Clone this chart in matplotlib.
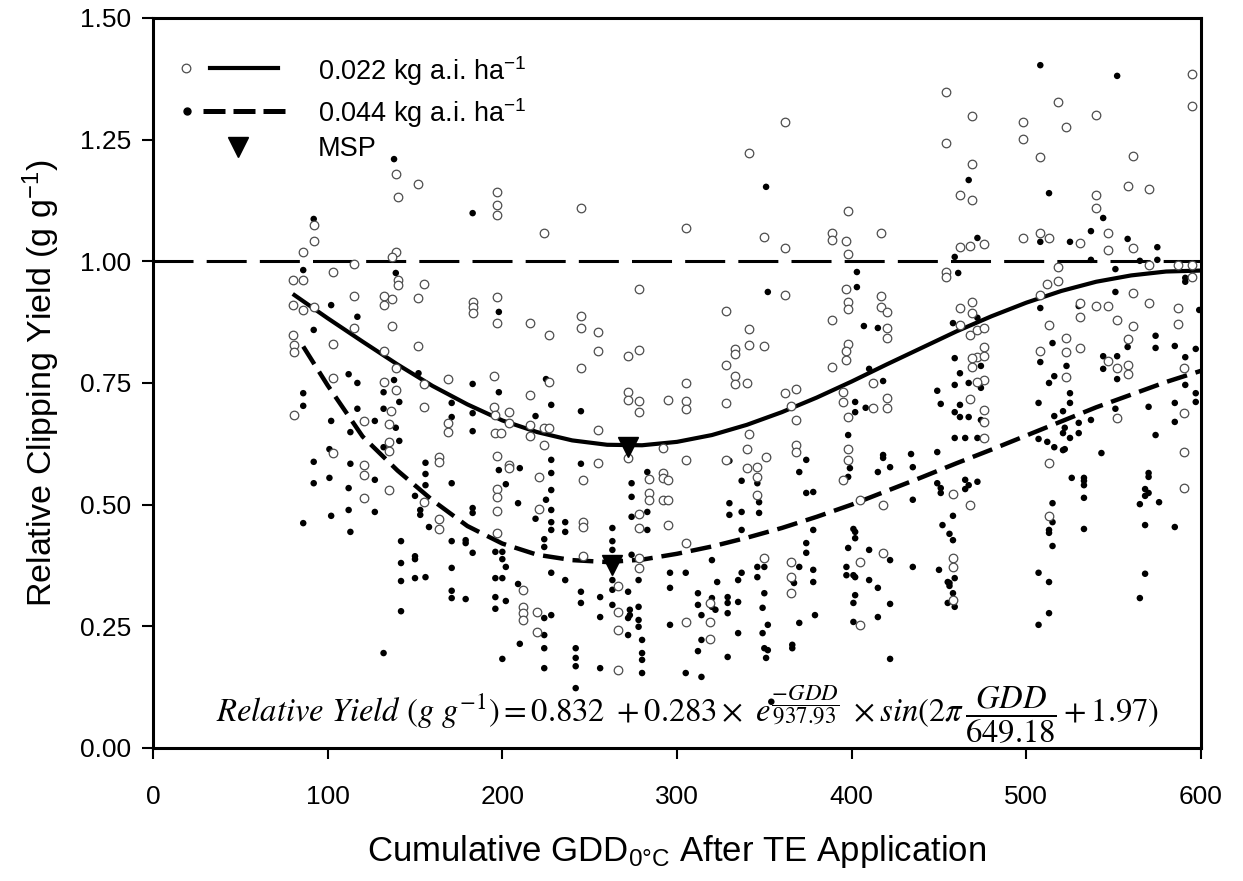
import matplotlib
matplotlib.use("Agg")
import matplotlib.pyplot as plt

plt.rcParams['font.family'] = ['Liberation Sans', 'DejaVu Sans']
plt.rcParams['mathtext.fontset'] = 'custom'
plt.rcParams['mathtext.rm'] = 'Liberation Sans'
plt.rcParams['mathtext.it'] = 'Liberation Sans:italic'

# fitted curves
fit_x_022 = [80, 100, 120, 140, 160, 180, 200, 220, 240, 260, 280, 300, 320, 340,
             360, 380, 400, 420, 440, 460, 480, 500, 520, 540, 560, 580, 600]
fit_y_022 = [0.933, 0.883, 0.835, 0.788, 0.744, 0.706, 0.673, 0.649, 0.632, 0.623,
             0.622, 0.629, 0.643, 0.664, 0.690, 0.720, 0.753, 0.788, 0.822, 0.856,
             0.887, 0.915, 0.939, 0.958, 0.971, 0.979, 0.981]
fit_x_044 = [86, 100, 120, 140, 160, 180, 200, 220, 240, 260, 280, 300, 320, 340,
             360, 380, 400, 420, 440, 460, 480, 500, 520, 540, 560, 580, 600]
fit_y_044 = [0.825, 0.745, 0.640, 0.570, 0.509, 0.456, 0.420, 0.397, 0.386, 0.382,
             0.387, 0.399, 0.414, 0.432, 0.452, 0.475, 0.500, 0.528, 0.556, 0.585,
             0.613, 0.642, 0.671, 0.700, 0.726, 0.752, 0.775]

# minimum suppression points
msp_x = [272, 263]
msp_y = [0.618, 0.375]

# 0.022 kg a.i. ha-1 observations (open circles)
obs_022 = [
    (92, 1.075), (92, 1.042), (86, 1.019), (80, 0.962), (86, 0.962), (80, 0.910), (86, 0.900),
    (92, 0.906), (80, 0.849), (81, 0.828), (81, 0.814), (81, 0.684), (103, 0.978), (103, 0.830),
    (103, 0.760), (103, 0.606), (115, 0.994), (115, 0.929), (115, 0.863), (121, 0.672), (121, 0.581),
    (121, 0.561), (132, 0.929), (132, 0.910), (132, 0.816), (132, 0.752), (136, 0.692), (137, 0.867),
    (137, 0.923), (139, 1.019), (137, 1.009), (140, 0.962), (140, 0.951), (140, 1.132), (139, 0.736),
    (135, 0.666), (135, 0.629), (135, 0.610), (139, 0.781), (152, 1.159), (155, 0.953), (152, 0.925),
    (152, 0.826), (155, 0.748), (155, 0.701), (164, 0.598), (164, 0.588), (169, 0.758), (169, 0.668),
    (169, 0.649), (183, 0.916), (183, 0.906), (183, 0.894), (197, 1.142), (197, 1.116), (197, 1.095),
    (197, 0.927), (197, 0.873), (195, 0.764), (195, 0.701), (196, 0.684), (196, 0.647), (199, 0.647),
    (197, 0.600), (204, 0.690), (204, 0.668), (204, 0.581), (204, 0.575), (216, 0.873), (216, 0.725),
    (216, 0.664), (216, 0.641), (224, 1.058), (224, 0.658), (224, 0.623), (221, 0.557), (139, 1.179),
    (121, 0.514), (135, 0.530), (164, 0.471), (164, 0.450), (155, 0.505), (197, 0.532), (197, 0.516),
    (197, 0.487), (197, 0.442), (221, 0.491), (212, 0.325), (212, 0.290), (212, 0.277), (212, 0.263),
    (220, 0.279), (220, 0.238),
    (245, 1.110), (305, 1.068), (341, 1.223), (362, 1.286), (350, 1.050), (362, 1.027), (454, 1.348),
    (454, 1.243), (398, 1.103), (389, 1.058), (389, 1.044), (397, 1.042), (398, 1.015), (417, 1.058),
    (454, 0.978), (454, 0.968), (278, 0.943), (245, 0.888), (245, 0.863), (255, 0.855), (255, 0.816),
    (245, 0.781), (227, 0.849), (227, 0.752), (272, 0.805), (278, 0.818), (272, 0.731), (272, 0.715),
    (278, 0.713), (278, 0.690), (295, 0.715), (305, 0.750), (305, 0.713), (305, 0.697), (328, 0.898),
    (341, 0.861), (333, 0.820), (333, 0.810), (341, 0.828), (350, 0.826), (328, 0.787), (333, 0.764),
    (333, 0.748), (340, 0.750), (328, 0.709), (362, 0.931), (389, 0.879), (397, 0.943), (398, 0.916),
    (398, 0.902), (398, 0.830), (397, 0.816), (397, 0.797), (389, 0.783), (417, 0.929), (417, 0.906),
    (420, 0.896), (420, 0.863), (420, 0.842), (412, 0.750), (395, 0.731), (395, 0.711), (420, 0.719),
    (420, 0.699), (412, 0.699), (362, 0.729), (368, 0.738), (365, 0.703), (368, 0.674), (341, 0.645),
    (398, 0.680), (398, 0.614), (398, 0.592), (368, 0.623), (368, 0.608), (340, 0.614), (340, 0.575),
    (328, 0.592), (305, 0.592), (255, 0.653), (255, 0.586), (227, 0.658), (292, 0.565), (272, 0.596),
    (292, 0.616),
    (469, 1.299), (469, 1.200), (462, 1.136), (469, 1.126), (498, 1.286), (498, 1.251), (518, 1.327),
    (523, 1.276), (508, 1.214), (540, 1.301), (561, 1.216), (558, 1.155), (570, 1.149), (595, 1.319),
    (540, 1.136), (540, 1.110), (462, 1.029), (468, 1.031), (476, 1.036), (498, 1.048), (508, 1.058),
    (513, 1.048), (531, 1.038), (547, 1.058), (547, 1.023), (561, 1.027), (518, 0.988), (570, 0.992),
    (587, 0.992), (595, 0.992), (595, 0.968), (512, 0.953), (518, 0.960), (462, 0.904), (469, 0.916),
    (469, 0.894), (462, 0.869), (468, 0.849), (472, 0.859), (476, 0.863), (476, 0.824), (472, 0.803),
    (469, 0.801), (476, 0.805), (469, 0.783), (476, 0.756), (472, 0.752), (468, 0.717), (476, 0.694),
    (476, 0.670), (476, 0.637), (508, 0.931), (531, 0.914), (540, 0.908), (547, 0.908), (531, 0.886),
    (513, 0.869), (561, 0.935), (570, 0.914), (587, 0.904), (587, 0.871), (552, 0.879), (561, 0.867),
    (523, 0.842), (523, 0.814), (508, 0.816), (531, 0.822), (523, 0.762), (558, 0.840), (547, 0.795),
    (552, 0.781), (558, 0.787), (558, 0.768), (590, 0.781), (590, 0.688), (552, 0.678), (513, 0.586),
    (590, 0.608), (595, 1.385),
    (246, 0.551), (246, 0.464), (246, 0.454), (246, 0.394), (266, 0.333), (266, 0.279), (266, 0.242),
    (266, 0.160), (278, 0.481), (278, 0.452), (278, 0.390), (278, 0.370), (284, 0.553), (284, 0.524),
    (284, 0.510), (292, 0.555), (292, 0.510), (295, 0.551), (295, 0.510), (295, 0.458), (305, 0.421),
    (305, 0.259), (319, 0.298), (319, 0.259), (319, 0.224), (346, 0.577), (346, 0.557), (346, 0.520),
    (351, 0.598), (350, 0.390), (365, 0.382), (365, 0.351), (365, 0.318), (395, 0.551), (405, 0.510),
    (405, 0.382), (405, 0.253), (418, 0.499), (418, 0.401), (458, 0.522), (468, 0.499), (458, 0.390),
    (458, 0.372), (458, 0.304), (513, 0.477), (590, 0.534),
]

# 0.044 kg a.i. ha-1 observations (filled circles)
obs_044 = [
    (92, 1.087), (86, 0.982), (102, 0.910), (117, 0.886), (92, 0.859), (112, 0.768), (117, 0.750),
    (86, 0.729), (86, 0.703), (102, 0.672), (117, 0.697), (113, 0.649), (101, 0.614), (92, 0.588),
    (113, 0.584), (101, 0.555), (139, 0.976), (138, 0.756), (132, 0.731), (141, 0.711), (132, 0.697),
    (127, 0.672), (139, 0.658), (141, 0.631), (156, 0.586), (156, 0.563), (152, 0.770), (171, 0.709),
    (171, 0.680), (183, 0.748), (183, 0.688), (183, 0.651), (183, 1.099), (198, 0.896), (198, 0.731),
    (198, 0.571), (210, 0.575), (219, 0.682), (225, 0.758), (138, 1.210),
    (92, 0.544), (112, 0.534), (127, 0.551), (112, 0.489), (102, 0.477), (86, 0.462), (113, 0.444),
    (132, 0.618), (127, 0.485), (156, 0.540), (150, 0.518), (153, 0.489), (153, 0.479), (158, 0.454),
    (171, 0.544), (183, 0.493), (183, 0.483), (179, 0.427), (179, 0.421), (171, 0.425), (183, 0.401),
    (171, 0.370), (171, 0.323), (171, 0.308), (179, 0.306), (142, 0.425), (142, 0.380), (142, 0.343),
    (142, 0.281), (150, 0.394), (150, 0.388), (150, 0.349), (156, 0.351), (132, 0.195), (196, 0.403),
    (200, 0.403), (200, 0.388), (202, 0.372), (196, 0.349), (200, 0.349), (196, 0.310), (202, 0.302),
    (196, 0.286), (202, 0.542), (209, 0.503), (219, 0.471), (225, 0.510), (209, 0.337), (210, 0.214),
    (200, 0.183), (224, 0.429), (224, 0.413), (224, 0.267), (224, 0.232), (224, 0.205), (224, 0.164),
    (228, 0.592), (228, 0.565), (228, 0.530), (228, 0.489), (228, 0.464), (228, 0.448), (228, 0.360),
    (228, 0.273),
    (351, 1.153), (352, 0.937), (403, 0.978), (403, 0.947), (407, 0.867), (415, 0.863), (410, 0.779),
    (418, 0.754), (402, 0.711), (408, 0.699), (402, 0.690), (398, 0.643), (449, 0.734), (451, 0.707),
    (449, 0.608), (418, 0.602), (418, 0.596), (434, 0.604), (374, 0.592), (352, 0.598), (245, 0.692),
    (245, 0.584), (228, 0.705), (283, 0.567), (346, 0.577), (370, 0.567), (415, 0.567), (422, 0.577),
    (399, 0.575), (330, 0.590),
    (467, 1.167), (513, 1.140), (544, 1.089), (537, 1.062), (558, 1.046), (525, 1.040), (575, 1.029),
    (472, 1.048), (459, 1.009), (508, 1.040), (537, 1.003), (565, 1.001), (575, 1.003), (461, 0.976),
    (551, 0.984), (591, 0.966), (591, 0.958), (551, 0.937), (508, 0.904), (530, 0.908), (599, 0.900),
    (458, 0.873), (472, 0.884), (515, 0.832), (558, 0.824), (574, 0.847), (574, 0.822), (585, 0.826),
    (597, 0.820), (591, 0.803), (459, 0.801), (474, 0.785), (508, 0.793), (523, 0.785), (544, 0.805),
    (552, 0.805), (544, 0.779), (552, 0.758), (462, 0.770), (459, 0.746), (467, 0.750), (474, 0.740),
    (516, 0.764), (513, 0.750), (525, 0.729), (525, 0.709), (521, 0.692), (516, 0.682), (537, 0.674),
    (551, 0.697), (570, 0.701), (585, 0.709), (585, 0.670), (597, 0.729), (597, 0.711), (591, 0.746),
    (459, 0.690), (462, 0.705), (462, 0.680), (467, 0.680), (474, 0.674), (459, 0.637), (465, 0.637),
    (472, 0.637), (507, 0.709), (507, 0.635), (512, 0.629), (516, 0.618), (522, 0.658), (521, 0.647),
    (530, 0.668), (530, 0.647), (525, 0.637), (522, 0.614), (543, 0.606), (574, 0.643), (435, 0.577),
    (526, 0.555), (533, 0.555), (570, 0.565), (508, 1.403), (552, 1.381),
    (236, 0.464), (236, 0.444), (236, 0.345), (242, 0.205), (242, 0.185), (242, 0.168), (242, 0.123),
    (245, 0.321), (245, 0.298), (256, 0.310), (256, 0.269), (256, 0.164), (263, 0.452), (263, 0.425),
    (263, 0.407), (263, 0.345), (263, 0.325), (263, 0.294), (274, 0.544), (274, 0.516), (274, 0.475),
    (274, 0.397), (272, 0.321), (273, 0.284), (273, 0.273), (272, 0.267), (272, 0.232), (278, 0.290),
    (278, 0.263), (278, 0.249), (280, 0.222), (280, 0.195), (280, 0.181), (280, 0.154), (283, 0.485),
    (283, 0.448), (278, 0.345), (296, 0.360), (296, 0.329), (296, 0.253), (305, 0.360), (305, 0.154),
    (314, 0.146), (312, 0.318), (312, 0.294), (314, 0.273), (314, 0.222), (312, 0.199), (320, 0.308),
    (320, 0.290), (322, 0.284), (329, 0.310), (329, 0.298), (329, 0.277), (323, 0.341), (335, 0.345),
    (335, 0.300), (335, 0.236), (329, 0.187), (330, 0.503), (330, 0.479), (337, 0.549), (337, 0.485),
    (337, 0.448), (337, 0.360), (320, 0.386), (346, 0.372), (346, 0.351), (350, 0.372), (350, 0.318),
    (349, 0.288), (352, 0.253), (349, 0.236), (350, 0.205), (352, 0.201), (351, 0.185), (354, 0.095),
    (347, 0.505), (347, 0.483), (346, 0.544), (366, 0.212), (366, 0.205), (366, 0.345), (367, 0.339),
    (370, 0.372), (370, 0.257), (378, 0.366), (378, 0.341), (379, 0.273), (374, 0.421), (374, 0.401),
    (378, 0.448), (374, 0.524), (378, 0.526), (397, 0.372), (397, 0.355), (401, 0.355), (402, 0.351),
    (398, 0.411), (401, 0.450), (402, 0.444), (402, 0.431), (402, 0.314), (401, 0.298), (401, 0.259),
    (410, 0.407), (410, 0.345), (415, 0.329), (415, 0.269), (422, 0.386), (422, 0.296), (422, 0.183),
    (398, 0.557), (435, 0.510), (435, 0.372), (449, 0.544), (452, 0.458), (450, 0.366), (455, 0.341),
    (455, 0.298),
    (451, 0.534), (451, 0.524), (456, 0.440), (458, 0.427), (459, 0.349), (456, 0.339), (456, 0.333),
    (458, 0.318), (459, 0.290), (458, 0.477), (465, 0.551), (467, 0.540), (465, 0.532), (472, 0.547),
    (515, 0.503), (515, 0.464), (513, 0.448), (513, 0.442), (515, 0.415), (507, 0.360), (513, 0.341),
    (513, 0.277), (507, 0.253), (521, 0.612), (533, 0.549), (533, 0.540), (533, 0.514), (533, 0.450),
    (570, 0.557), (568, 0.532), (570, 0.524), (568, 0.518), (565, 0.501), (576, 0.505), (568, 0.458),
    (585, 0.454), (568, 0.358), (565, 0.308),
]

x022 = [p[0] for p in obs_022]
y022 = [p[1] for p in obs_022]
x044 = [p[0] for p in obs_044]
y044 = [p[1] for p in obs_044]

fig = plt.figure(figsize=(12.43, 8.81), dpi=100)
ax = fig.add_axes([0.1231, 0.151, 0.8431, 0.8286])

# reference line at 1.0
ax.axhline(1.0, color='black', lw=2.2, dashes=(13.1, 4.3), zorder=1)

# curves
ax.plot(fit_x_022, fit_y_022, color='black', lw=3, solid_capstyle='butt', zorder=2)
ax.plot(fit_x_044, fit_y_044, color='black', lw=3.2, dashes=(4.7, 2.0), zorder=2)

# observations
ax.scatter(x044, y044, s=22, color='black', edgecolors='none', zorder=3)
ax.scatter(x022, y022, s=38, facecolors='white', edgecolors='0.3', linewidths=0.9, zorder=4)

# MSP markers
ax.plot(msp_x, msp_y, 'v', color='black', markersize=14, zorder=5)

# legend drawn by hand
tr = ax.transAxes
ax.plot([0.0315], [0.9315], 'o', ms=6.2, mfc='white', mec='0.3', mew=0.9, transform=tr)
ax.plot([0.0544, 0.1193], [0.9315, 0.9315], color='black', lw=3, transform=tr)
ax.plot([0.0324], [0.8726], 'o', ms=5, color='black', transform=tr)
ax.plot([0.0477, 0.1279], [0.8726, 0.8726], color='black', lw=3.6, dashes=(4.4, 1.6), transform=tr)
ax.plot([0.0811], [0.8233], 'v', color='black', ms=14, transform=tr)
ax.text(0.1574, 0.915, r'0.022 kg a.i. ha$^{\mathrm{-1}}$', fontsize=19.5, transform=tr, va='baseline')
ax.text(0.1574, 0.8575, r'0.044 kg a.i. ha$^{\mathrm{-1}}$', fontsize=19.5, transform=tr, va='baseline')
ax.text(0.1574, 0.811, 'MSP', fontsize=19.5, transform=tr, va='baseline')

# fitted equation
eq = (r'$Relative\ Yield\ (g\ g^{-1}) = 0.832\ +0.283\times\ e^{\dfrac{-GDD}{937.93}}'
      r'\ \times sin(2\pi\,\dfrac{GDD}{649.18}+1.97)$')
ax.text(0.060, 0.0342, eq, fontsize=23.5, transform=tr, va='baseline', ha='left',
        math_fontfamily='stix')

ax.set_xlim(0, 600)
ax.set_ylim(0, 1.5)
ax.set_xticks(range(0, 601, 100))
ax.set_yticks([0, 0.25, 0.5, 0.75, 1.0, 1.25, 1.5])
ax.set_yticklabels(['0.00', '0.25', '0.50', '0.75', '1.00', '1.25', '1.50'])
ax.tick_params(direction='out', length=8, width=1.5, labelsize=19)
ax.tick_params(axis='x', pad=19)
ax.tick_params(axis='y', pad=8)
for s in ax.spines.values():
    s.set_linewidth(2.2)

ax.set_xlabel('Cumulative GDD$_{\\mathrm{0°C}}$ After TE Application', fontsize=25, labelpad=17)
ax.set_ylabel(r'Relative Clipping Yield (g g$^{\mathrm{-1}}$)', fontsize=24.5, labelpad=12.5)

fig.savefig('out.png', dpi=100)
